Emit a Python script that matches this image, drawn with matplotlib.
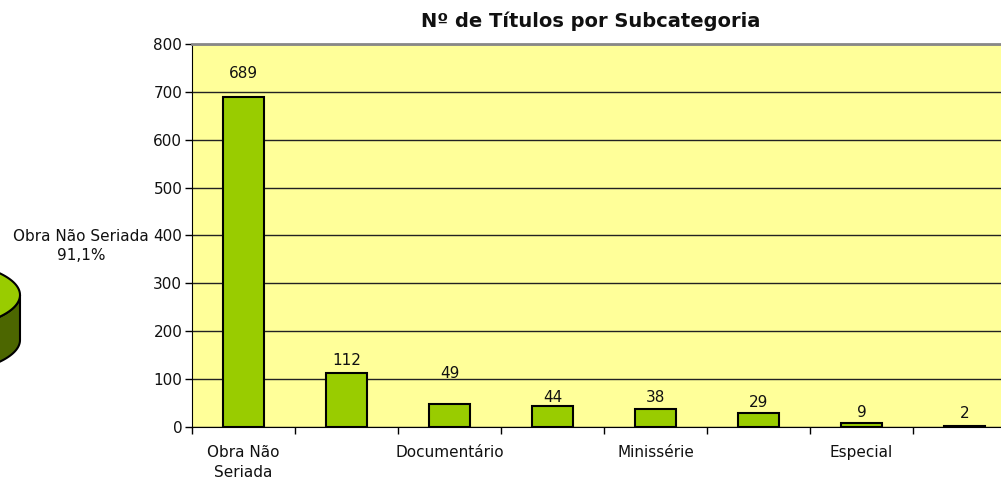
import matplotlib
matplotlib.use("Agg")
import matplotlib.pyplot as plt
from matplotlib.patches import Polygon
import numpy as np

categories = ["Obra Não\nSeriada", "", "Documentário", "", "Minissérie", "", "Especial", ""]
values = [689, 112, 49, 44, 38, 29, 9, 2]
label_offsets_px = [24, 13, 30, 8, 11, 11, 10, 13]
yticks = [0, 100, 200, 300, 400, 500, 600, 700, 800]
title = "Nº de Títulos por Subcategoria"
pie_label = "Obra Não Seriada\n91,1%"

W, H = 1001, 479
fig = plt.figure(figsize=(W / 100, H / 100), dpi=100)
plt.rcParams['font.family'] = ['DejaVu Sans']
TXT = "#111111"
FS = 11

# axes: plot area from x=192 to 1016 (beyond right edge), y=44 to 427
L, R, T, B = 192, 1016, 44, 427
ax = fig.add_axes([L / W, (H - B) / H, (R - L) / W, (B - T) / H])
ax.set_facecolor("#FFFF99")
x = np.arange(len(values))
ax.bar(x, values, width=0.4, color="#99CC00", edgecolor="black", linewidth=1.5, zorder=3)
ax.set_xlim(-0.5, len(values) - 0.5)
ax.set_ylim(0, 800)
ax.set_yticks(yticks)
ax.set_yticklabels([str(v) for v in yticks], fontsize=FS, color=TXT)
ax.yaxis.grid(True, color="#222222", linewidth=1)
ax.set_axisbelow(True)
ax.tick_params(axis="y", direction="out", length=5, width=1, pad=2)
ax.set_xticks(x)
ax.set_xticklabels(categories, fontsize=FS, linespacing=1.4, color=TXT)
ax.tick_params(axis="x", length=0, pad=13)
ax.set_xticks(np.arange(len(values) + 1) - 0.5, minor=True)
ax.tick_params(axis="x", which="minor", direction="out", length=5, width=1)
ax.spines["right"].set_visible(False)
ax.spines["top"].set_color("#888888")
ax.spines["top"].set_linewidth(2)
ax.spines["left"].set_color("black")
ax.spines["bottom"].set_color("black")

for xi, v, off in zip(x, values, label_offsets_px):
    ax.annotate(str(v), (xi, v), xytext=(0, off), textcoords="offset pixels",
                ha="center", va="center", fontsize=FS, color=TXT)

fig.text(591 / W, 1 - 21 / H, title, ha="center", va="center", fontsize=14,
         fontweight="bold", color=TXT)

# partial 3D pie slice on the left (figure pixel coords)
cx, cy, a, b, depth = -80, 295, 100, 36, 45
t = np.linspace(0, 2 * np.pi, 400)
ex = cx + a * np.cos(t)
ey = cy + b * np.sin(t)
tl = np.linspace(0, np.pi, 200)
sx1 = cx + a * np.cos(tl)
sy1 = cy + b * np.sin(tl)
side_x = np.concatenate([sx1, sx1[::-1]])
side_y = np.concatenate([sy1 + depth, sy1[::-1]])
def to_fig(px, py):
    return np.column_stack([np.asarray(px) / W, 1 - np.asarray(py) / H])
fig.patches.append(Polygon(to_fig(side_x, side_y), closed=True, facecolor="#4C6600",
                           edgecolor="black", linewidth=1.5, transform=fig.transFigure, zorder=1))
fig.patches.append(Polygon(to_fig(ex, ey), closed=True, facecolor="#99CC00",
                           edgecolor="black", linewidth=1.5, transform=fig.transFigure, zorder=2))
fig.text(81 / W, 1 - 246 / H, pie_label, ha="center", va="center", fontsize=FS,
         linespacing=1.35, color=TXT)

fig.savefig("out.png", dpi=100)
